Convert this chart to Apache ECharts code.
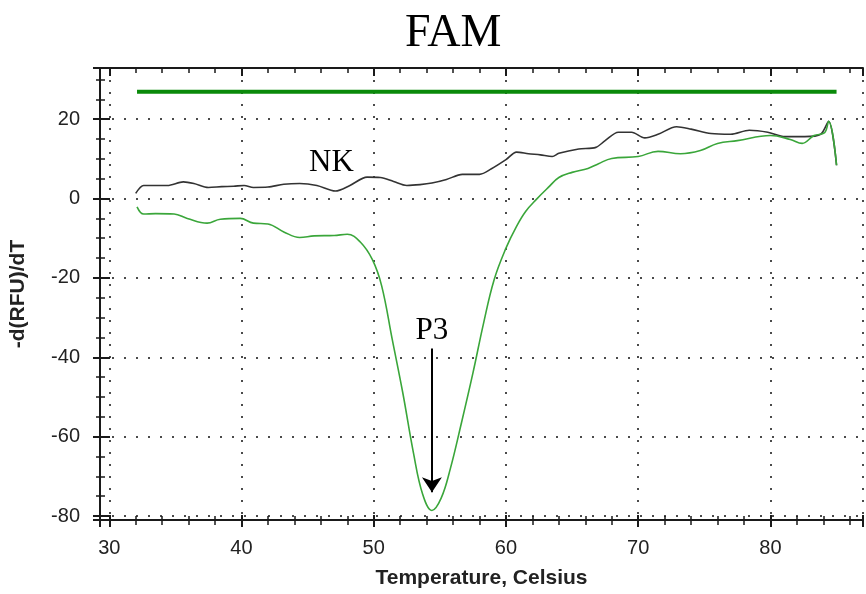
<!DOCTYPE html>
<html>
<head>
<meta charset="utf-8">
<title>FAM</title>
<script src="https://cdn.jsdelivr.net/npm/echarts@6/dist/echarts.min.js"></script>
<style>
  html, body { margin: 0; padding: 0; background: #fff; }
  #chart { width: 866px; height: 594px; }
</style>
</head>
<body>
<div id="chart"></div>
<script>
// melt curves, [temperature, -d(RFU)/dT]
const nkCurve = [
  [32.0, 1.3], [32.6, 3.3], [33.5, 3.3], [34.4, 3.3], [35.6, 4.2], [36.4, 3.8],
  [37.5, 2.8], [38.5, 3.0], [39.4, 3.1], [40.2, 3.3], [40.9, 2.8], [42.0, 2.9],
  [43.2, 3.6], [44.4, 3.8], [45.7, 3.3], [47.1, 1.9], [48.2, 3.3], [49.5, 5.4],
  [50.5, 5.3], [51.5, 4.3], [52.5, 3.3], [53.5, 3.5], [54.4, 3.9], [55.5, 4.8],
  [56.7, 6.1], [58.0, 6.1], [58.9, 7.5], [60.0, 9.8], [60.8, 11.7], [61.7, 11.3],
  [62.6, 11.0], [63.5, 10.6], [64.0, 11.4], [65.5, 12.5], [66.8, 12.9], [67.5, 14.6],
  [68.5, 16.7], [69.5, 16.7], [70.5, 15.3], [71.5, 16.2], [72.9, 18.1], [74.0, 17.5],
  [75.5, 16.4], [77.0, 16.2], [78.4, 17.2], [79.8, 16.7], [81.1, 15.6], [82.6, 15.6],
  [83.8, 16.2], [84.4, 19.5], [85.0, 8.4]
];
const p3Curve = [
  [32.1, -2.1], [32.6, -3.9], [33.5, -3.8], [34.9, -3.9], [35.9, -5.0], [37.4, -6.2],
  [38.4, -5.2], [39.9, -5.0], [40.9, -6.2], [42.0, -6.4], [43.2, -8.4], [44.4, -9.8],
  [45.5, -9.4], [47.0, -9.3], [48.0, -9.0], [49.0, -11.0], [49.9, -15.4], [50.6, -22.0],
  [51.4, -35.5], [52.2, -49.0], [53.0, -64.0], [53.7, -74.5], [54.4, -78.6],
  [55.1, -75.5], [55.8, -68.0], [56.6, -57.0], [57.5, -44.0], [58.3, -31.5], [59.1, -20.5],
  [60.0, -12.5], [60.8, -7.0], [61.5, -3.2], [62.3, -0.2], [63.2, 2.8], [64.0, 5.3], [65.0, 6.6],
  [66.2, 7.6], [67.0, 8.8], [68.0, 10.1], [70.0, 10.6], [71.5, 11.9], [73.2, 11.3],
  [74.7, 12.1], [76.0, 13.9], [77.5, 14.6], [80.0, 15.9], [81.5, 14.9], [82.4, 13.9],
  [83.3, 15.9], [84.1, 16.6], [84.4, 19.5], [85.0, 8.4]
];
const topLine = [[32.1, 26.9], [85.0, 26.9]];

const xRange = [29.3, 87];
const yRange = [-81, 32.9];
const nkLabel = { name: "NK", coord: [46.8, 9.1] };
const p3Label = { name: "P3", coord: [54.4, -33.3] };
const p3Arrow = [[54.4, -37.8], [54.4, -74.0]];

const ink = "#1a1a1a";
const dots = { type: [2, 10], color: "#111", width: 1.5 };

function xAxisBase(extra) {
  return Object.assign({
    type: "value", min: xRange[0], max: xRange[1],
    axisLine: { show: false, onZero: false },
    axisTick: { show: false }, minorTick: { show: false },
    axisLabel: { show: false }, splitLine: { show: false }
  }, extra);
}
function yAxisBase(extra) {
  return Object.assign({
    type: "value", min: yRange[0], max: yRange[1],
    axisLine: { show: false, onZero: false },
    axisTick: { show: false }, minorTick: { show: false },
    axisLabel: { show: false }, splitLine: { show: false }
  }, extra);
}

const chart = echarts.init(document.getElementById("chart"));
chart.setOption({
  animation: false,
  title: {
    text: "FAM", left: 400, top: 6,
    textStyle: { fontFamily: "Liberation Serif", fontSize: 46, fontWeight: "normal", color: "#000" }
  },
  grid: { left: 99, top: 68, right: 0, bottom: 72 },
  xAxis: [
    xAxisBase({
      position: "bottom",
      name: "Temperature, Celsius", nameLocation: "middle", nameGap: 48,
      nameTextStyle: { fontFamily: "Liberation Sans", fontSize: 21, fontWeight: "bold", color: "#222" },
      axisLine: { show: true, onZero: false, lineStyle: { color: ink, width: 2 } },
      axisTick: { show: true, length: 7, lineStyle: { color: ink, width: 2 } },
      minorTick: { show: true, splitNumber: 5, length: 5, lineStyle: { color: ink, width: 1.5 } },
      axisLabel: {
        show: true, margin: 18, fontFamily: "Liberation Sans", fontSize: 20, color: "#222",
        formatter: v => (v % 10 ? "" : v)
      },
      splitLine: { show: true, lineStyle: dots }
    }),
    xAxisBase({
      position: "bottom",
      axisTick: { show: true, inside: true, length: 5, lineStyle: { color: ink, width: 2 } },
      minorTick: { show: true, splitNumber: 5, length: 4, lineStyle: { color: ink, width: 1.5 } }
    }),
    xAxisBase({
      position: "top",
      axisLine: { show: true, onZero: false, lineStyle: { color: ink, width: 2 } },
      axisTick: { show: true, inside: true, length: 8, lineStyle: { color: ink, width: 2 } },
      minorTick: { show: true, splitNumber: 5, length: 5, lineStyle: { color: ink, width: 1.5 } }
    })
  ],
  yAxis: [
    yAxisBase({
      position: "left",
      name: "-d(RFU)/dT", nameLocation: "middle", nameGap: 71, nameRotate: 90,
      nameTextStyle: { fontFamily: "Liberation Sans", fontSize: 21, fontWeight: "bold", color: "#222" },
      axisLine: { show: true, onZero: false, lineStyle: { color: ink, width: 2 } },
      axisTick: { show: true, length: 7, lineStyle: { color: ink, width: 2 } },
      minorTick: { show: true, splitNumber: 4, length: 4, lineStyle: { color: ink, width: 1.5 } },
      axisLabel: {
        show: true, margin: 20, fontFamily: "Liberation Sans", fontSize: 20, color: "#222",
        formatter: v => (v % 20 ? "" : v)
      },
      splitLine: { show: true, lineStyle: dots }
    }),
    yAxisBase({
      position: "left",
      axisTick: { show: true, inside: true, length: 10, lineStyle: { color: ink, width: 2 } },
      minorTick: { show: true, splitNumber: 4, length: 5, lineStyle: { color: ink, width: 1.5 } }
    })
  ],
  series: [
    {
      type: "line", data: topLine, showSymbol: false, silent: true,
      lineStyle: { color: "#0a8a0a", width: 4 }
    },
    {
      type: "line", data: nkCurve, showSymbol: false, silent: true, smooth: 0.3,
      lineStyle: { color: "#333", width: 1.6 },
      markPoint: {
        symbol: "circle", symbolSize: 0, silent: true,
        label: { show: true, position: "inside", formatter: "{b}", fontFamily: "Liberation Serif", fontSize: 31, color: "#000" },
        data: [nkLabel]
      }
    },
    {
      type: "line", data: p3Curve, showSymbol: false, silent: true, smooth: 0.4,
      lineStyle: { color: "#3aa63a", width: 1.6 },
      markPoint: {
        symbol: "circle", symbolSize: 0, silent: true,
        label: { show: true, position: "inside", formatter: "{b}", fontFamily: "Liberation Serif", fontSize: 31, color: "#000" },
        data: [p3Label]
      },
      markLine: {
        silent: true, symbol: ["none", "arrow"], symbolSize: 15,
        lineStyle: { color: "#000", width: 2, type: "solid" },
        label: { show: false },
        data: [[{ coord: p3Arrow[0] }, { coord: p3Arrow[1] }]]
      }
    }
  ]
});
</script>
</body>
</html>
